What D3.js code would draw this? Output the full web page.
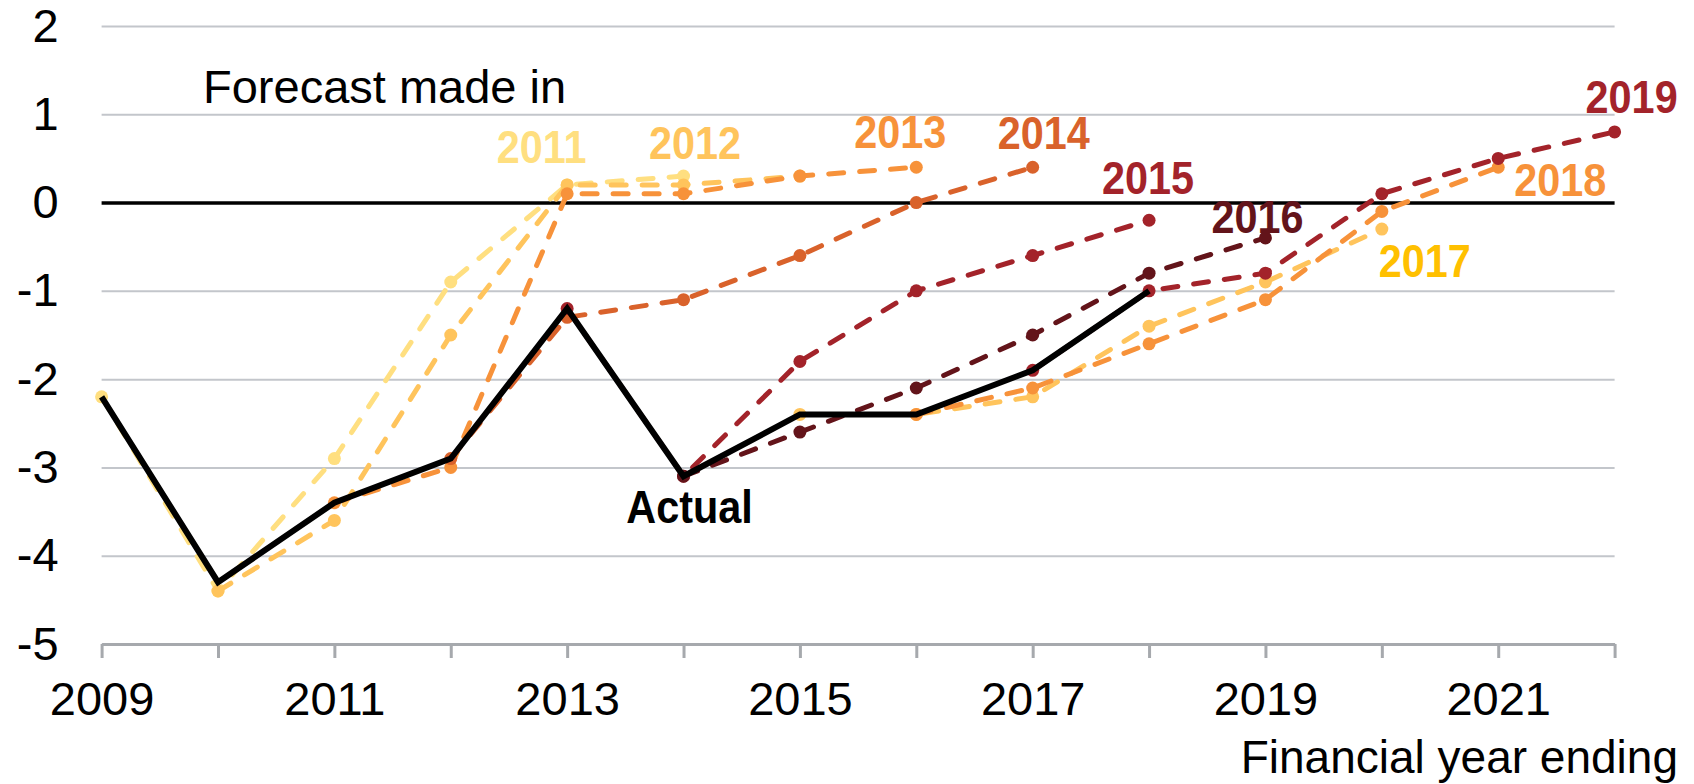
<!DOCTYPE html>
<html>
<head>
<meta charset="utf-8">
<script src="https://cdn.jsdelivr.net/npm/d3@7"></script>
<style>
    html, body { margin: 0; padding: 0; background: #fff; }
    svg { display: block; font-family: "Liberation Sans", Arial, sans-serif; }
</style>
</head>
<body>
<svg id="chart" width="1694" height="784"></svg>
<script>
// --- data ---
const actualYears = [2009, 2010, 2011, 2012, 2013, 2014, 2015, 2016, 2017, 2018];
const actualValues = [-2.2, -4.3, -3.4, -2.9, -1.2, -3.1, -2.4, -2.4, -1.9, -1.0];

// each forecast covers six years, starting two years before it was made
const forecastNames = ['2011', '2012', '2013', '2014', '2015', '2016', '2017', '2018', '2019'];
const forecastStart = [2009, 2010, 2011, 2012, 2013, 2014, 2015, 2016, 2017];
const forecastValues = [
    [-2.2, -4.4, -2.9, -0.9, 0.2, 0.3],
    [-4.4, -3.6, -1.5, 0.2, 0.2, 0.3],
    [-3.4, -3.0, 0.1, 0.1, 0.3, 0.4],
    [-2.9, -1.3, -1.1, -0.6, 0.0, 0.4],
    [-1.2, -3.1, -1.8, -1.0, -0.6, -0.2],
    [-3.1, -2.6, -2.1, -1.5, -0.8, -0.4],
    [-2.4, -2.4, -2.2, -1.4, -0.9, -0.3],
    [-2.4, -2.1, -1.6, -1.1, -0.1, 0.4],
    [-1.9, -1.0, -0.8, 0.1, 0.5, 0.8]
];

const yTicks = [-5, -4, -3, -2, -1, 0, 1, 2];
const xTicks = d3.range(2009, 2023);

// --- styling ---
const lineColors = ['#FFDF80', '#FFC45C', '#F7923A', '#D9622B', '#A3232A', '#63141A', '#FFC45C', '#F7923A', '#A3232A'];
const labelColors = ['#FFDF80', '#FFC45C', '#F7923A', '#D9622B', '#A3232A', '#63141A', '#FFC000', '#F7923A', '#A3232A'];
// label offset (px) from each forecast's last point
const labelNudge = [[-142, -13], [-105, -17], [-16, -19], [11, -18], [-1, -26], [-8, -5], [43, 48], [62, 29], [17, -19]];

const svg = d3.select('#chart');
const plotLeft = 101.6, plotRight = 1614.6, plotTop = 26, plotBottom = 644;

const x = d3.scaleLinear().domain([2009, 2022]).range([plotLeft, plotRight]);
const y = d3.scaleLinear().domain([-5, 2]).range([plotBottom, plotTop]);

// gridlines + y labels
const yAxis = svg.append('g')
    .attr('transform', `translate(${plotLeft},0)`)
    .call(d3.axisLeft(y).tickValues(yTicks).tickFormat(d => String(d))
        .tickSize(-(plotRight - plotLeft)).tickPadding(43));
yAxis.select('.domain').remove();
yAxis.selectAll('.tick line')
    .attr('stroke', d => d === 0 ? '#000' : '#C3C6CB')
    .attr('stroke-width', d => d === 0 ? 3.5 : 2);
yAxis.selectAll('.tick text')
    .style('font-size', '47px')
    .attr('fill', '#000');

// x axis
const xAxis = svg.append('g')
    .attr('transform', `translate(0,${plotBottom})`)
    .call(d3.axisBottom(x).tickValues(xTicks)
        .tickFormat(d => (d % 2 === 1) ? String(d) : '')
        .tickSize(14).tickPadding(24).tickSizeOuter(0));
xAxis.select('.domain').attr('stroke', '#A6A9AD').attr('stroke-width', 3);
xAxis.selectAll('.tick line').attr('stroke', '#A6A9AD').attr('stroke-width', 3);
xAxis.selectAll('.tick text')
    .style('font-size', '47px')
    .attr('fill', '#000');

// forecast lines
const line = d3.line().x(d => x(d.year)).y(d => y(d.value));

const series = forecastNames.map((name, i) => ({
    name: name,
    color: lineColors[i],
    labelColor: labelColors[i],
    nudge: labelNudge[i],
    points: forecastValues[i].map((v, j) => ({ year: forecastStart[i] + j, value: v }))
}));

const fg = svg.append('g');
series.forEach(s => {
    fg.append('path')
        .datum(s.points)
        .attr('d', line)
        .attr('fill', 'none')
        .attr('stroke', s.color)
        .attr('stroke-width', 5)
        .attr('stroke-dasharray', '15,16')
        .attr('stroke-linecap', 'round');
    fg.selectAll(null)
        .data(s.points)
        .enter()
        .append('circle')
        .attr('cx', d => x(d.year))
        .attr('cy', d => y(d.value))
        .attr('r', 6.5)
        .attr('fill', s.color);
});

// actual outturn
const actual = actualYears.map((yr, i) => ({ year: yr, value: actualValues[i] }));
svg.append('path')
    .datum(actual)
    .attr('d', line)
    .attr('fill', 'none')
    .attr('stroke', '#000')
    .attr('stroke-width', 6);

// bold labels are a bit narrow in the original, squeeze them horizontally
function boldLabel(px, py, txt, color) {
    svg.append('text')
        .attr('transform', `translate(${px},${py}) scale(0.9,1)`)
        .attr('text-anchor', 'middle')
        .style('font-size', '46px')
        .style('font-weight', 'bold')
        .attr('fill', color)
        .text(txt);
}

series.forEach(s => {
    const last = s.points[s.points.length - 1];
    boldLabel(x(last.year) + s.nudge[0], y(last.value) + s.nudge[1], s.name, s.labelColor);
});

boldLabel(x(2014) + 6, y(-3.1) + 47, 'Actual', '#000');

svg.append('text')
    .attr('x', 203)
    .attr('y', 103)
    .style('font-size', '47px')
    .attr('fill', '#000')
    .text('Forecast made in');

svg.append('text')
    .attr('x', 1678)
    .attr('y', 773)
    .attr('text-anchor', 'end')
    .style('font-size', '46px')
    .attr('fill', '#000')
    .text('Financial year ending');
</script>
</body>
</html>
